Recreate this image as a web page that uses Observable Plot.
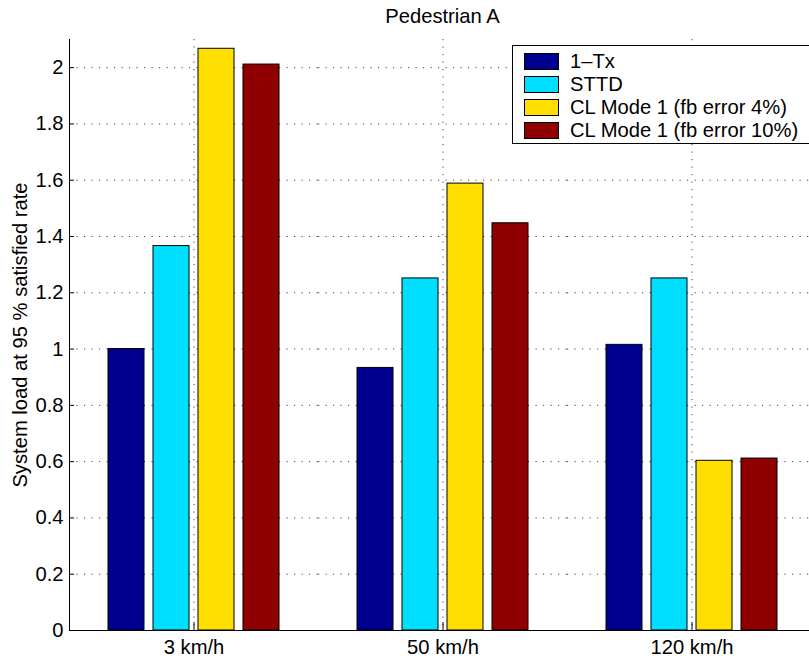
<!DOCTYPE html>
<html>
<head>
<meta charset="utf-8">
<script src="https://cdn.jsdelivr.net/npm/d3@7"></script>
<script src="https://cdn.jsdelivr.net/npm/@observablehq/plot@0.6"></script>
<style>
  html, body { margin: 0; padding: 0; background: #fff; overflow: hidden; }
  #wrap { position: relative; width: 809px; height: 662px; font-family: "Liberation Sans", Arial, sans-serif; color: #000; }
  #title { position: absolute; left: 0; top: 6px; width: 885px; text-align: center; font-size: 20.2px; line-height: 20px; }
  #legend { position: absolute; left: 512px; top: 45px; width: 310px; height: 99px; border: 1px solid #000; background: #fff; box-sizing: border-box; padding-top: 4px; }
  .row { display: flex; align-items: center; height: 23px; font-size: 20.2px; white-space: nowrap; }
  .sw { width: 35px; height: 17px; border: 1px solid #000; margin-left: 11px; margin-right: 11px; box-sizing: border-box; }
  #chart { position: absolute; left: 0; top: 0; }
</style>
</head>
<body>
<div id="wrap">
  <div id="chart"></div>
  <div id="title"></div>
  <div id="legend"></div>
</div>
<script>
// Mobile speeds (groups) and transmit schemes (bars within a group)
const speeds = ["3 km/h", "50 km/h", "120 km/h"];
const schemes = ["1\u2013Tx", "STTD", "CL Mode 1 (fb error 4%)", "CL Mode 1 (fb error 10%)"];
const schemeColors = ["#00008f", "#00dfff", "#ffdf00", "#8f0000"];

// System load at 95 % satisfied rate, one value per speed
const load1Tx = [1.000, 0.933, 1.015];
const loadSTTD = [1.366, 1.251, 1.251];
const loadCL4 = [2.067, 1.588, 0.603];
const loadCL10 = [2.011, 1.447, 0.611];

const yTicks = [0, 0.2, 0.4, 0.6, 0.8, 1, 1.2, 1.4, 1.6, 1.8, 2];
const yTickLabels = ["0", "0.2", "0.4", "0.6", "0.8", "1", "1.2", "1.4", "1.6", "1.8", "2"];

const title = "Pedestrian A";
const yLabel = "System load at 95 % satisfied rate";

const seriesValues = [load1Tx, loadSTTD, loadCL4, loadCL10];
const rows = speeds.flatMap((speed, i) =>
  schemes.map((scheme, j) => ({speed, scheme, value: seriesValues[j][i]}))
);

const font = "Liberation Sans, Arial, sans-serif";
const fontSize = 20.2;
const dots = {stroke: "#000", strokeOpacity: 0.75, strokeDasharray: "1.2,6.3"};

const chart = Plot.plot({
  width: 809,
  height: 662,
  marginTop: 39,
  marginBottom: 32,
  marginLeft: 68,
  marginRight: -8,
  style: {fontFamily: font, fontSize: fontSize + "px", color: "#000", background: "transparent", overflow: "visible"},
  fx: {domain: speeds, paddingInner: 0, paddingOuter: 0, label: null},
  x: {domain: schemes, paddingInner: 0.2, paddingOuter: 0.85, axis: null},
  y: {domain: [0, 2.1], label: null},
  color: {domain: schemes, range: schemeColors},
  marks: [
    Plot.gridY(yTicks, dots),
    Plot.gridFx(dots),
    Plot.barY(rows, {fx: "speed", x: "scheme", y: "value", fill: "scheme", stroke: "#000", strokeWidth: 1}),
    Plot.ruleY([0], {stroke: "#000", strokeWidth: 1}),
    Plot.frame({anchor: "left", facet: "super", stroke: "#000"}),
    Plot.axisY(yTicks, {
      tickSize: -5, tickPadding: 11, stroke: "#000",
      tickFormat: (d) => yTickLabels[yTicks.indexOf(d)],
      label: yLabel, labelAnchor: "center", labelOffset: 57, labelArrow: "none",
      fontSize
    }),
    Plot.axisFx({anchor: "bottom", tickSize: -8, tickPadding: 17, stroke: "#000", label: null, fontSize})
  ]
});
document.getElementById("chart").append(chart);

document.getElementById("title").textContent = title;

const legend = document.getElementById("legend");
schemes.forEach((name, i) => {
  const row = document.createElement("div");
  row.className = "row";
  const sw = document.createElement("div");
  sw.className = "sw";
  sw.style.background = schemeColors[i];
  const label = document.createElement("span");
  label.textContent = name;
  row.append(sw, label);
  legend.append(row);
});
</script>
</body>
</html>
